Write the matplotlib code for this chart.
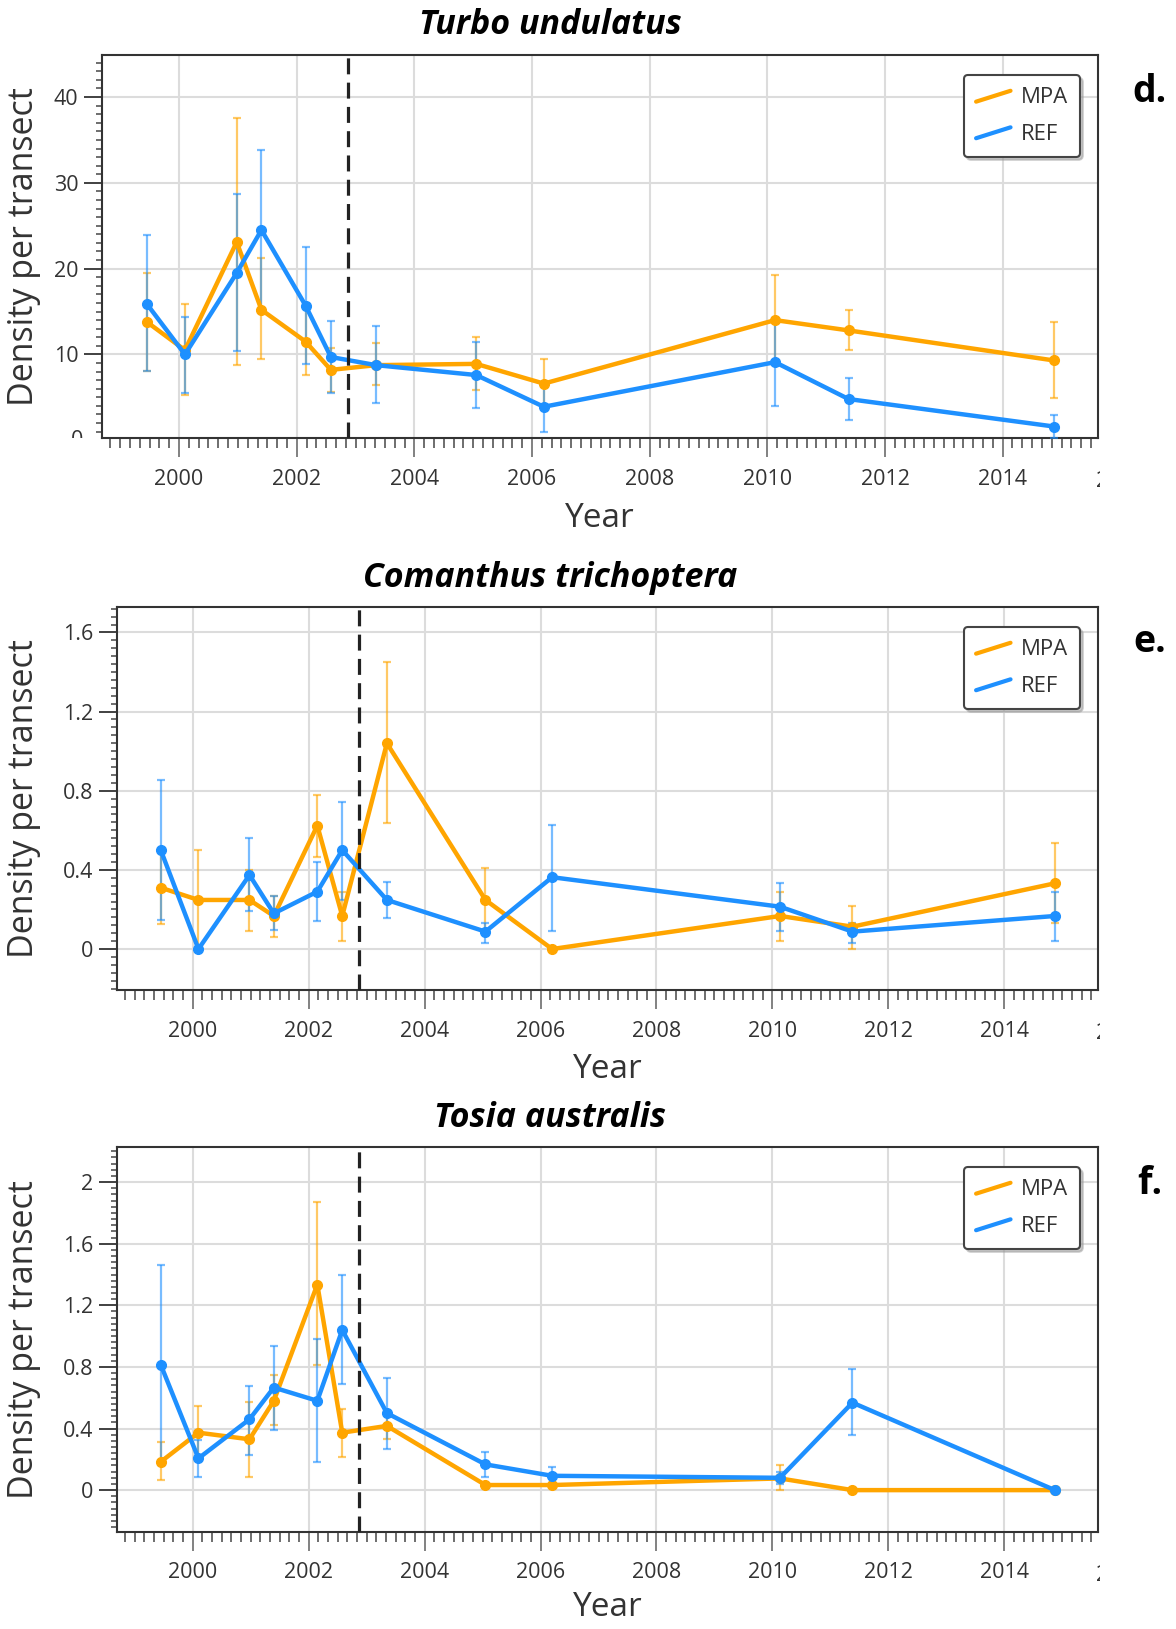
import matplotlib
matplotlib.use("Agg")
import matplotlib.pyplot as plt
from matplotlib.lines import Line2D
from matplotlib.legend_handler import HandlerBase
from matplotlib.ticker import MultipleLocator, FixedLocator, FuncFormatter
from matplotlib.transforms import Bbox, TransformedBbox, blended_transform_factory

plt.rcParams['font.family'] = ['Open Sans', 'DejaVu Sans']

# ---------------- data ----------------
years = [1999.45, 2000.1, 2000.98, 2001.4, 2002.15, 2002.58, 2003.35, 2005.05, 2006.2, 2010.13, 2011.38, 2014.87]
mpa_start = 2002.87

# Turbo undulatus
turbo_mpa = [13.8, 10.5, 23.1, 15.2, 11.5, 8.2, 8.75, 8.9, 6.6, 14.0, 12.8, 9.3]
turbo_mpa_lo = [8.1, 5.3, 8.75, 9.5, 7.6, 5.6, 6.4, 5.8, 3.7, 8.8, 10.5, 4.9]
turbo_mpa_hi = [19.5, 15.9, 37.5, 21.2, 15.4, 10.8, 11.3, 12.0, 9.5, 19.2, 15.2, 13.8]
turbo_ref = [15.9, 10.0, 19.5, 24.5, 15.7, 9.7, 8.75, 7.6, 3.9, 9.1, 4.8, 1.6]
turbo_ref_lo = [8.05, 5.5, 10.4, 15.3, 8.9, 5.5, 4.3, 3.7, 1.0, 4.0, 2.35, 0.3]
turbo_ref_hi = [23.9, 14.4, 28.7, 33.8, 22.5, 13.9, 13.3, 11.5, 6.6, 14.2, 7.2, 2.9]

# Comanthus trichoptera
coman_mpa = [0.31, 0.248, 0.248, 0.167, 0.624, 0.167, 1.04, 0.248, 0.0, 0.167, 0.113, 0.332]
coman_mpa_lo = [0.125, 0.0, 0.09, 0.06, 0.467, 0.04, 0.636, 0.09, 0.0, 0.04, 0.0, 0.13]
coman_mpa_hi = [0.50, 0.50, 0.40, 0.27, 0.78, 0.29, 1.45, 0.41, 0.0, 0.29, 0.22, 0.535]
coman_ref = [0.50, 0.0, 0.374, 0.18, 0.29, 0.50, 0.248, 0.088, 0.363, 0.214, 0.088, 0.167]
coman_ref_lo = [0.147, 0.0, 0.19, 0.096, 0.14, 0.248, 0.155, 0.03, 0.093, 0.093, 0.03, 0.04]
coman_ref_hi = [0.855, 0.0, 0.56, 0.27, 0.44, 0.742, 0.34, 0.133, 0.627, 0.335, 0.13, 0.29]

# Tosia australis
tosia_mpa = [0.184, 0.373, 0.33, 0.58, 1.335, 0.373, 0.417, 0.033, 0.033, 0.076, 0.0, 0.0]
tosia_mpa_lo = [0.065, 0.2, 0.087, 0.42, 0.81, 0.217, 0.33, 0.033, 0.033, 0.0, 0.0, 0.0]
tosia_mpa_hi = [0.31, 0.547, 0.575, 0.75, 1.87, 0.525, 0.50, 0.033, 0.033, 0.163, 0.0, 0.0]
tosia_ref = [0.814, 0.206, 0.46, 0.666, 0.58, 1.04, 0.5, 0.167, 0.093, 0.08, 0.568, 0.0]
tosia_ref_lo = [0.163, 0.087, 0.228, 0.39, 0.184, 0.69, 0.27, 0.087, 0.043, 0.04, 0.358, 0.0]
tosia_ref_hi = [1.465, 0.325, 0.677, 0.9375, 0.98, 1.40, 0.727, 0.25, 0.15, 0.12, 0.786, 0.0]

titles = ["Turbo undulatus", "Comanthus trichoptera", "Tosia australis"]
panel_letters = ["d.", "e.", "f."]
series_labels = ["MPA", "REF"]
xtick_years = [2000, 2002, 2004, 2006, 2008, 2010, 2012, 2014]

# ---------------- layout ----------------
W, H = 1176, 1629
fig = plt.figure(figsize=(W / 100, H / 100), dpi=100)

C_MPA = '#FFA500'
C_REF = '#1E90FF'
TXT = '#333333'

panels = [
    dict(box=(102, 1098, 55, 438), ylim=(0.26, 44.9), minor=1, yticks=[10, 20, 30, 40],
         clip0=True, mpa=(turbo_mpa, turbo_mpa_lo, turbo_mpa_hi), ref=(turbo_ref, turbo_ref_lo, turbo_ref_hi),
         title_y=25, letter_y=92, leg_top=75, xlab_y=518),
    dict(box=(116.7, 1098.3, 606.7, 990), ylim=(-0.207, 1.73), minor=0.04, yticks=[0, 0.4, 0.8, 1.2, 1.6],
         clip0=False, mpa=(coman_mpa, coman_mpa_lo, coman_mpa_hi), ref=(coman_ref, coman_ref_lo, coman_ref_hi),
         title_y=578, letter_y=642, leg_top=627, xlab_y=1069),
    dict(box=(116.7, 1098.3, 1146.7, 1531.7), ylim=(-0.27, 2.23), minor=0.04, yticks=[0, 0.4, 0.8, 1.2, 1.6, 2.0],
         clip0=False, mpa=(tosia_mpa, tosia_mpa_lo, tosia_mpa_hi), ref=(tosia_ref, tosia_ref_lo, tosia_ref_hi),
         title_y=1118, letter_y=1184, leg_top=1167, xlab_y=1608),
]


class SlantHandler(HandlerBase):
    def create_artists(self, legend, orig_handle, xdescent, ydescent, width, height, fontsize, trans):
        x0, x1 = -xdescent, -xdescent + width
        y0, y1 = -ydescent + 0.1 * height, -ydescent + 0.8 * height
        ln = Line2D([x0, x1], [y0, y1], color=orig_handle.get_color(), lw=3, solid_capstyle='round',
                    transform=trans)
        return [ln]


def fmt(v, pos=None):
    return f"{v:g}"


for i, p in enumerate(panels):
    l, r, t, b = p['box']
    ax = fig.add_axes([l / W, 1 - b / H, (r - l) / W, (b - t) / H])
    ax.set_xlim(1998.69, 2015.62)
    ax.set_ylim(*p['ylim'])

    ax.grid(True, which='major', color='#dcdcdc', lw=1.5, zorder=0)
    ax.set_axisbelow(True)

    handles = []
    for (vals, lo, hi), col in [(p['mpa'], C_MPA), (p['ref'], C_REF)]:
        yerr = [[v - a for v, a in zip(vals, lo)], [c - v for v, c in zip(vals, hi)]]
        ax.errorbar(years, vals, yerr=yerr, fmt='none', ecolor=col, elinewidth=1.6, capsize=3,
                    capthick=1.6, alpha=0.6, zorder=3)
        h, = ax.plot(years, vals, color=col, lw=3.2, marker='o', ms=7, zorder=4)
        handles.append(h)

    ax.axvline(mpa_start, color='#222222', lw=2.3, ls=(0, (5, 2.6)), zorder=5)

    # ticks
    ax.xaxis.set_major_locator(FixedLocator(xtick_years))
    ax.xaxis.set_minor_locator(MultipleLocator(1 / 6))
    ax.yaxis.set_major_locator(FixedLocator(p['yticks']))
    ax.yaxis.set_minor_locator(MultipleLocator(p['minor']))
    ax.yaxis.set_major_formatter(FuncFormatter(fmt))
    ax.tick_params(axis='x', which='major', direction='out', length=14, width=1.3, color='#777777',
                   pad=8, labelsize=15.5, labelcolor=TXT)
    ax.tick_params(axis='x', which='minor', direction='out', length=7, width=1.2, color='#555555')
    ax.tick_params(axis='y', which='major', direction='out', length=13, width=1.3, color='#333333',
                   pad=4, labelsize=15.5, labelcolor=TXT)
    ax.tick_params(axis='y', which='minor', direction='out', length=4, width=1.2, color='#555555')
    for s in ax.spines.values():
        s.set_color('#333333')
        s.set_linewidth(1.5)

    # clipped partial labels at the edges (as in original)
    tr = blended_transform_factory(ax.transData, fig.transFigure)
    lab_top = b + 33
    t2016 = ax.text(2016, 1 - lab_top / H, "2016", transform=tr, ha='center', va='top',
                    fontsize=15.5, color=TXT, clip_on=True)
    t2016.set_clip_box(TransformedBbox(Bbox.from_extents(0, 0, 1100 / W, 1), fig.transFigure))
    if p['clip0']:
        tr2 = blended_transform_factory(fig.transFigure, ax.transData)
        t0 = ax.text((l - 13 - 5.5) / W, 0, "0", transform=tr2, ha='right', va='center',
                     fontsize=15.5, color=TXT, clip_on=True)
        t0.set_clip_box(TransformedBbox(Bbox.from_extents(0, 1 - b / H, 1, 1), fig.transFigure))

    # legend
    leg = ax.legend(handles, series_labels, loc='upper right',
                    bbox_to_anchor=(1080 / W, 1 - p['leg_top'] / H), bbox_transform=fig.transFigure,
                    borderaxespad=0, fontsize=16, handler_map={Line2D: SlantHandler()},
                    handlelength=1.55, handletextpad=0.45, labelspacing=0.7, borderpad=0.55,
                    fancybox=True, framealpha=1, edgecolor='#444444',
                    shadow={'color': '#999999', 'alpha': 0.5})
    leg.get_frame().set_linewidth(1.5)
    for txt in leg.get_texts():
        txt.set_color(TXT)

    # texts
    fig.text(550 / W, 1 - p['title_y'] / H, titles[i], ha='center', va='center', fontsize=24.5,
             fontweight='bold', fontstyle='italic', color='black')
    fig.text(1150 / W, 1 - p['letter_y'] / H, panel_letters[i], ha='center', va='center', fontsize=27,
             fontweight='bold', color='black')
    fig.text(24 / W, 1 - ((t + b) / 2) / H, "Density per transect", rotation=90, ha='center', va='center',
             fontsize=24.5, color=TXT)
    fig.text(((l + r) / 2) / W, 1 - p['xlab_y'] / H, "Year", ha='center', va='center', fontsize=24, color=TXT)

fig.savefig("out.png", dpi=100)
